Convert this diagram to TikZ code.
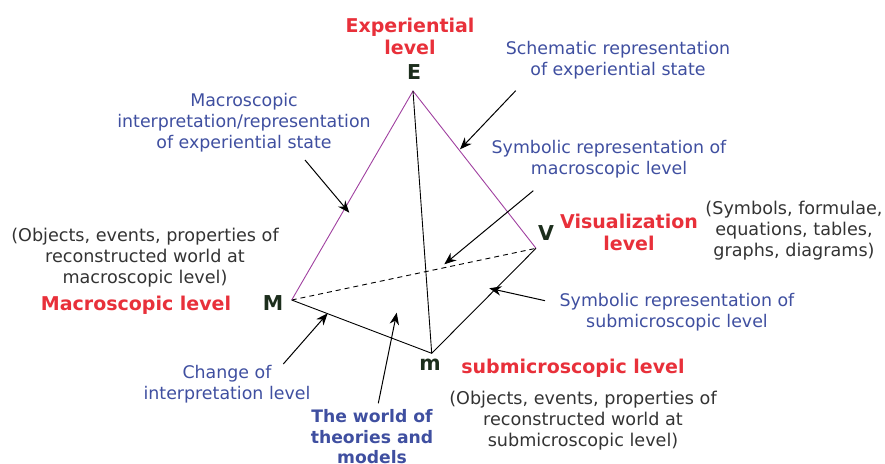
\documentclass[tikz,border=0pt]{standalone}
\usepackage{fontspec}
\setmainfont{DejaVu Sans}
\usetikzlibrary{arrows.meta}
\definecolor{lblue}{HTML}{3F4FA0}
\definecolor{lred}{HTML}{E8303A}
\definecolor{lgray}{HTML}{333333}
\definecolor{vgreen}{HTML}{1C2E1C}
\definecolor{epurple}{HTML}{A040A0}
\tikzset{
  x=1pt, y=-1pt,
  bluetxt/.style={text=lblue, align=center, font=\fontsize{17.4}{21}\selectfont, inner sep=0pt},
  graytxt/.style={text=lgray, align=center, font=\fontsize{17.6}{21}\selectfont, inner sep=0pt},
  redtxt/.style={text=lred, align=center, font=\bfseries\fontsize{19}{22}\selectfont, inner sep=0pt},
  worldtxt/.style={text=lblue, align=center, font=\bfseries\fontsize{17.2}{20.5}\selectfont, inner sep=0pt},
  vert/.style={text=vgreen, font=\bfseries\fontsize{20.5}{21}\selectfont, inner sep=0pt},
  edge/.style={line width=0.9pt, black},
  pedge/.style={line width=0.9pt, epurple},
  ptr/.style={line width=1pt, black, -{Stealth[length=12pt,width=9.5pt]}},
}
\begin{document}
\begin{tikzpicture}
\useasboundingbox (0,0) rectangle (885,463);
% vertices
\coordinate (E) at (413,91);
\coordinate (M) at (291.7,300);
\coordinate (m) at (431.7,353.3);
\coordinate (V) at (536,248.3);
% edges
\draw[edge, dashed, dash pattern=on 5pt off 4pt] (M) -- (V);
\draw[pedge] (M) -- (E) -- (V);
\draw[edge] (E) -- (m);
\draw[edge] (M) -- (m) -- (V);
% vertex letters
\node[vert] (Elab) at (414,72) {E};
\node[vert] (Mlab) at (273,303) {M};
\node[vert] (mlab) at (430,365) {m};
\node[vert] (Vlab) at (546,233) {V};
% labels
\node[redtxt] (explev) at (410,36) {Experiential\\level};
\node[redtxt] (vislev) at (629,232) {Visualization\\level};
\node[redtxt] (maclev) at (136,305) {Macroscopic level};
\node[redtxt] (sublev) at (573,368) {submicroscopic level};
\node[bluetxt] (macint) at (244,123) {Macroscopic\\interpretation/representation\\of experiential state};
\node[bluetxt] (schem) at (618,60) {Schematic representation\\of experiential state};
\node[bluetxt] (symmac) at (609,159) {Symbolic representation of\\macroscopic level};
\node[bluetxt] (symsub) at (677,312) {Symbolic representation of\\submicroscopic level};
\node[bluetxt] (change) at (227,384) {Change of\\interpretation level};
\node[worldtxt] (world) at (372,437) {The world of\\theories and\\models};
\node[graytxt] (symb) at (794,231) {(Symbols, formulae,\\equations, tables,\\graphs, diagrams)};
\node[graytxt] (objmac) at (145,258) {(Objects, events, properties of\\reconstructed world at\\macroscopic level)};
\node[graytxt] (objsub) at (583,421) {(Objects, events, properties of\\reconstructed world at\\submicroscopic level)};
% pointer arrows
\coordinate (a1s) at (305,160);   \coordinate (a1e) at (349.3,212.7);
\coordinate (a2s) at (515.7,90.7); \coordinate (a2e) at (460,149.3);
\coordinate (a3s) at (533.3,190.7); \coordinate (a3e) at (444.3,264.3);
\coordinate (a4s) at (545,300.7); \coordinate (a4e) at (489.3,288.3);
\coordinate (a5s) at (283.3,364); \coordinate (a5e) at (327.7,313.3);
\coordinate (a6s) at (378.3,403.3); \coordinate (a6e) at (396.7,312.7);
\draw[ptr] (a1s) -- (a1e);
\draw[ptr] (a2s) -- (a2e);
\draw[ptr] (a3s) -- (a3e);
\draw[ptr] (a4s) -- (a4e);
\draw[ptr] (a5s) -- (a5e);
\draw[ptr] (a6s) -- (a6e);
\end{tikzpicture}
\end{document}
